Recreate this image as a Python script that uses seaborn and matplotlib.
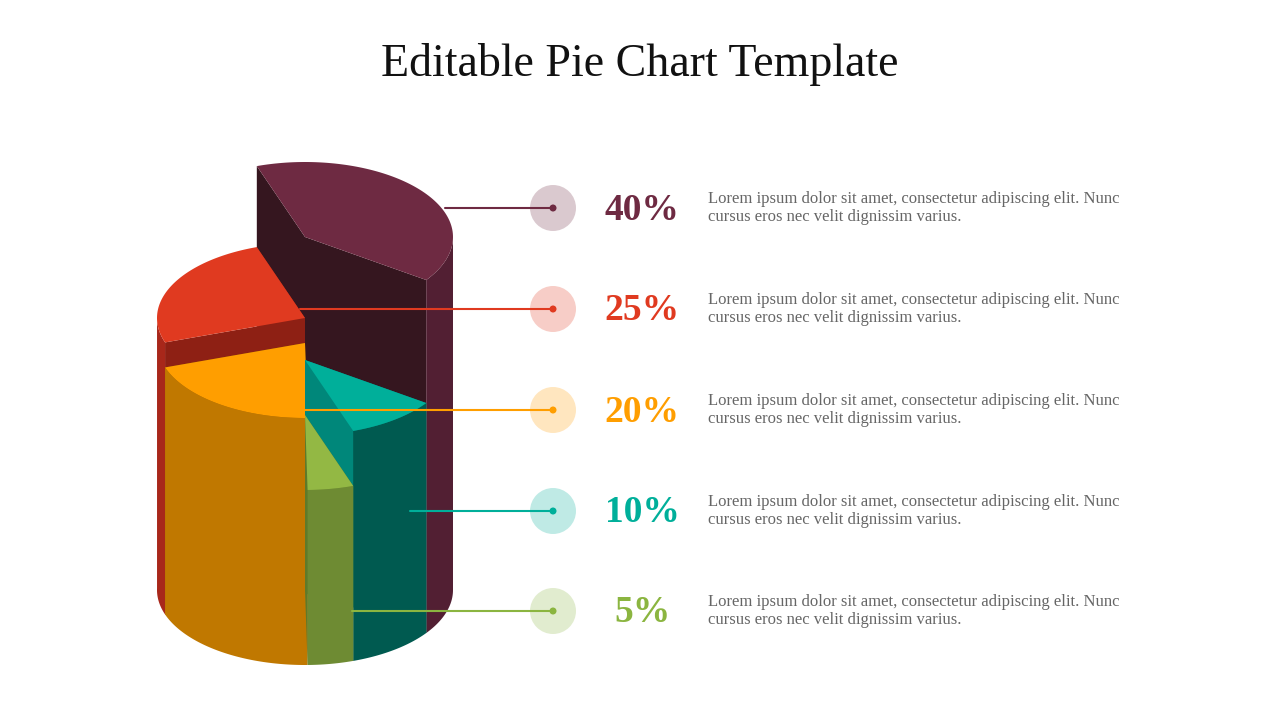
import numpy as np
import matplotlib.pyplot as plt
import seaborn as sns
from matplotlib.patches import Polygon, Circle

sns.set_theme(style="white")
plt.rcParams['font.family'] = ['Liberation Serif', 'DejaVu Serif']

# data
labels = ["40%", "25%", "20%", "5%", "10%"]
shares = [40, 25, 20, 5, 10]
# top height of each slice above the base (pixels in the picture)
heights = [353, 272, 247, 175, 230]
top_colors = ["#6E2A42", "#E03A20", "#FF9E00", "#93B844", "#00AF9A"]
side_colors = ["#521F33", "#A8271A", "#C07800", "#6E8B33", "#005A50"]
radial_colors = ["#35161F", "#8E2014", "#7F4E00", "#5E7A2A", "#00877A"]
text_colors = ["#6E2A42", "#E03A20", "#FF9E00", "#00AF9A", "#8BB540"]
legend_order = [0, 1, 2, 4, 3]
line_ends = [445, 300, 250, 410, 352]
desc = "Lorem ipsum dolor sit amet, consectetur adipiscing elit. Nunc\ncursus eros nec velit dignissim varius."

fig = plt.figure(figsize=(12.8, 7.2), dpi=100)
ax = fig.add_axes([0, 0, 1, 1])
ax.set_xlim(0, 1280)
ax.set_ylim(720, 0)
ax.axis("off")

cx, ybase, rx, ry = 305, 590, 148, 75
start = -35.0
angles = []
for s in shares:
    angles.append((start, start + s * 3.6))
    start += s * 3.6

def edge(t, y0):
    r = np.radians(t)
    return cx + rx * np.cos(r), y0 - ry * np.sin(r)

# painter order: back first, short front slice last
order = [0, 1, 2, 4, 3]
for i in order:
    a0, a1 = angles[i]
    ytop = ybase - heights[i]
    for a in (a0, a1):
        x, yt = edge(a, ytop)
        _, yb = edge(a, ybase)
        ax.add_patch(Polygon([(cx, ytop), (x, yt), (x, yb), (cx, ybase)],
                             closed=True, fc=radial_colors[i], ec="none"))
    t = np.linspace(a0, a1, 100)
    front = t[np.sin(np.radians(t)) <= 0.02]
    if len(front) > 1:
        top_pts = [edge(v, ytop) for v in front]
        bot_pts = [edge(v, ybase) for v in front[::-1]]
        ax.add_patch(Polygon(top_pts + bot_pts, closed=True,
                             fc=side_colors[i], ec="none"))
    pts = [(cx, ytop)] + [edge(v, ytop) for v in t]
    ax.add_patch(Polygon(pts, closed=True, fc=top_colors[i], ec="none"))

ys = [208, 309, 410, 511, 611]
for k, idx in enumerate(legend_order):
    y = ys[k]
    c = text_colors[k]
    ax.plot([line_ends[k], 553], [y, y], color=c, lw=1.5, zorder=5)
    ax.add_patch(Circle((553, y), 23, fc=c, alpha=0.25, ec="none", zorder=4))
    ax.add_patch(Circle((553, y), 3.5, fc=c, ec="none", zorder=6))
    ax.text(642, y + 2, labels[idx], color=c, fontsize=27, fontweight="bold",
            ha="center", va="center")
    ax.text(708, y, desc, color="#666666", fontsize=12, ha="left",
            va="center", linespacing=1.15)

ax.text(640, 65, "Editable Pie Chart Template", fontsize=33, ha="center",
        va="center", color="#111111")

fig.savefig("out.png", dpi=100)
